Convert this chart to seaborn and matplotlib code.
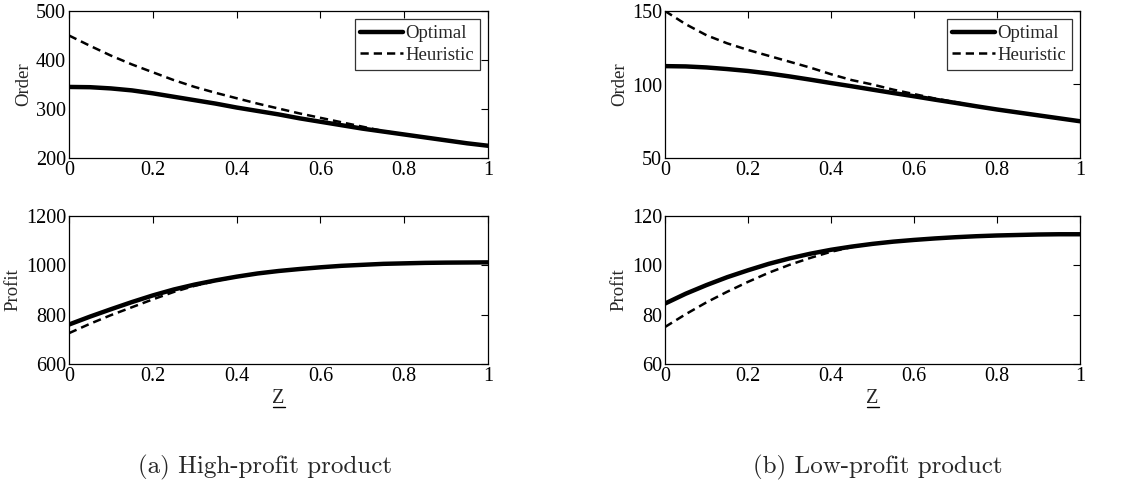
import numpy as np
import pandas as pd
import matplotlib
matplotlib.use("Agg")
import matplotlib.pyplot as plt
import seaborn as sns
from matplotlib.lines import Line2D

z = [0.0, 0.05, 0.1, 0.15, 0.2, 0.25, 0.3, 0.35, 0.4, 0.45, 0.5,
     0.55, 0.6, 0.65, 0.7, 0.75, 0.8, 0.85, 0.9, 0.95, 1.0]

hi_order_opt = [345, 344.5, 342, 338, 332, 325, 318, 311, 303, 296, 289,
                281, 274, 267, 260, 254, 248, 242, 236, 230, 225]
hi_order_heu = [450, 429, 409, 391, 375, 359, 345, 333, 322, 311, 301,
                291, 282, 273, 264, 255, 248, 242, 236, 230, 225]

lo_order_opt = [112.5, 112.3, 111.6, 110.5, 109.2, 107.5, 105.5, 103.3, 101, 98.8, 96.5,
                94.2, 92, 89.7, 87.5, 85.2, 83, 81, 79, 77, 75]
lo_order_heu = [150, 141, 133.5, 128, 123.5, 119.5, 115.5, 111.5, 107, 103, 100,
                96.5, 93.5, 90.5, 88, 85.3, 83, 81, 79, 77, 75]

hi_profit_opt = [760, 792, 822, 851, 878, 902, 922, 939, 954, 967, 977,
                 985, 992, 998, 1002, 1006, 1008, 1010, 1011, 1011.5, 1012]
hi_profit_heu = [725, 763, 798, 830, 862, 892, 917, 937, 953, 967, 977,
                 985, 992, 998, 1002, 1006, 1008, 1010, 1011, 1011.5, 1012]

lo_profit_opt = [84.5, 88.5, 92, 95.2, 98, 100.6, 102.8, 104.7, 106.3, 107.6, 108.7,
                 109.6, 110.3, 110.9, 111.4, 111.8, 112.1, 112.3, 112.5, 112.6, 112.6]
lo_profit_heu = [75, 80.2, 85, 89.3, 93.3, 97, 100.2, 103, 105.5, 107.4, 108.7,
                 109.6, 110.3, 110.9, 111.4, 111.8, 112.1, 112.3, 112.5, 112.6, 112.6]

x_ticks = [0, 0.2, 0.4, 0.6, 0.8, 1]
x_ticklabels = ["0", "0.2", "0.4", "0.6", "0.8", "1"]
hi_order_ticks = [200, 300, 400, 500]
lo_order_ticks = [50, 100, 150]
hi_profit_ticks = [600, 800, 1000, 1200]
lo_profit_ticks = [60, 80, 100, 120]
series_names = ["Optimal", "Heuristic"]
captions = ["(a) High-profit product", "(b) Low-profit product"]

sns.set_theme(style="white")
plt.rcParams["font.family"] = ["Liberation Serif", "DejaVu Serif"]
plt.rcParams["mathtext.fontset"] = "stix"

fig = plt.figure(figsize=(11.25, 4.86), dpi=100)
W, H = 1125, 486

def ax_at(x0, y0, x1, y1):
    return fig.add_axes([x0 / W, 1 - y1 / H, (x1 - x0) / W, (y1 - y0) / H])

axes = {
    "tl": ax_at(69, 11, 488, 158),
    "tr": ax_at(665, 11, 1080, 158),
    "bl": ax_at(69, 216, 488, 364),
    "br": ax_at(665, 216, 1080, 364),
}

panels = [
    ("tl", hi_order_opt, hi_order_heu, hi_order_ticks, "Order", True),
    ("tr", lo_order_opt, lo_order_heu, lo_order_ticks, "Order", True),
    ("bl", hi_profit_opt, hi_profit_heu, hi_profit_ticks, "Profit", False),
    ("br", lo_profit_opt, lo_profit_heu, lo_profit_ticks, "Profit", False),
]

for key, opt, heu, yt, ylab, leg in panels:
    ax = axes[key]
    df = pd.DataFrame({
        "z": z * 2,
        "value": opt + heu,
        "series": [series_names[0]] * len(z) + [series_names[1]] * len(z),
    })
    sns.lineplot(data=df[df.series == "Optimal"], x="z", y="value", ax=ax,
                 color="black", linewidth=3.2, label="Optimal", legend=False)
    sns.lineplot(data=df[df.series == "Heuristic"], x="z", y="value", ax=ax,
                 color="black", linewidth=1.8, linestyle=(0, (3.3, 2.0)),
                 label="Heuristic", legend=False)
    ax.set_xlim(0, 1)
    ax.set_ylim(yt[0], yt[-1])
    ax.set_xticks(x_ticks)
    ax.set_xticklabels(x_ticklabels)
    ax.set_yticks(yt)
    ax.set_yticklabels([str(t) for t in yt])
    ax.set_xlabel("")
    ax.set_ylabel(ylab, fontsize=13.5, labelpad=3)
    ax.tick_params(direction="in", length=5, width=0.8, top=True, right=True,
                   labelsize=14.5, colors="black", pad=2)
    for s in ax.spines.values():
        s.set_color("black")
        s.set_linewidth(0.9)
    if leg:
        lg = ax.legend(loc="upper right", fontsize=13.5, frameon=True, fancybox=False,
                       handlelength=2.3, handletextpad=0.1, borderpad=0.3,
                       labelspacing=0.25, borderaxespad=0.45)
        lg.get_frame().set_edgecolor("black")
        lg.get_frame().set_linewidth(0.9)

# underlined Z x-labels
for cx in [(69 + 488) / 2, (665 + 1080) / 2]:
    fig.text(cx / W, 1 - 398 / H, "Z", ha="center", va="center", fontsize=14.5)
    fig.add_artist(Line2D([(cx - 6) / W, (cx + 6) / W], [1 - 407 / H, 1 - 407 / H],
                          color="black", linewidth=1.0))

fig.text(265 / W, 1 - 467 / H, captions[0], ha="center", va="center",
         fontsize=18, family=["cmr10", "DejaVu Serif"])
fig.text(878 / W, 1 - 467 / H, captions[1], ha="center", va="center",
         fontsize=18, family=["cmr10", "DejaVu Serif"])

fig.savefig("out.png", dpi=100, facecolor="white")
